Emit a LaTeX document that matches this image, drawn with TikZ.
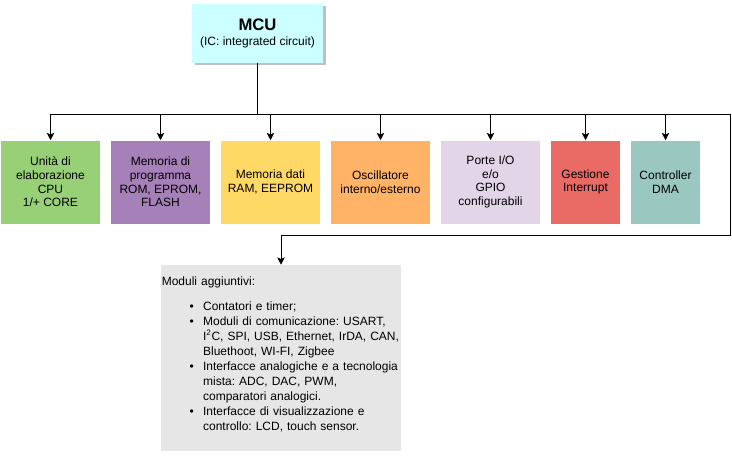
\documentclass[tikz,border=0pt]{standalone}
\usepackage{fontspec}
\setmainfont{Liberation Sans}
\usetikzlibrary{arrows.meta,shadows}
\definecolor{cmcu}{HTML}{CCFFFF}
\definecolor{ccpu}{HTML}{97D077}
\definecolor{cprog}{HTML}{A680B8}
\definecolor{cdati}{HTML}{FFD966}
\definecolor{cosc}{HTML}{FFB366}
\definecolor{cporte}{HTML}{E1D5E7}
\definecolor{cint}{HTML}{EA6B66}
\definecolor{cdma}{HTML}{9AC7BF}
\definecolor{cmod}{HTML}{E6E6E6}
\frenchspacing
\begin{document}
\frenchspacing
\begin{tikzpicture}[x=0.75pt,y=-0.75pt,
  font=\fontsize{9}{10.2}\selectfont,
  blk/.style={rectangle, draw=none, inner sep=0pt, minimum height=62.25pt, align=center},
  wide/.style={blk, minimum width=74.25pt},
  narrow/.style={blk, minimum width=51.75pt},
  conn/.style={line width=0.75pt, black},
  arr/.style={conn, -{Stealth[length=5.5pt,width=5.5pt,inset=1.2pt]}}]
\useasboundingbox (0,0) rectangle (732,455);

\node[rectangle, fill=cmcu, inner sep=0pt, minimum width=98.25pt, minimum height=44.25pt,
  drop shadow={shadow xshift=2pt, shadow yshift=-2pt, fill=black, opacity=0.25}, align=center]
  (mcu) at (257.5,33) {{\fontsize{12.5}{14}\selectfont\bfseries MCU}\\[1pt]{\fontsize{9}{10}\selectfont (IC: integrated circuit)}};

\node[wide, fill=ccpu] (cpu) at (50.5,182) {Unità di\\elaborazione\\CPU\\1/+ CORE};
\node[wide, fill=cprog] (prog) at (160.5,182) {Memoria di\\programma\\ROM, EPROM,\\FLASH};
\node[wide, fill=cdati] (dati) at (270.5,182) {Memoria dati\\RAM, EEPROM};
\node[wide, fill=cosc] (osc) at (380.5,182) {Oscillatore\\interno/esterno};
\node[wide, fill=cporte] (porte) at (490.5,182) {Porte I/O\\e/o\\GPIO\\configurabili};
\node[narrow, fill=cint] (int) at (585.5,182) {Gestione\\Interrupt};
\node[narrow, fill=cdma] (dma) at (665.5,182) {Controller\\DMA};

\node[rectangle, fill=cmod, inner sep=0pt, minimum width=180pt, minimum height=139.5pt] (mod) at (281,358) {};
\node[anchor=north west, inner sep=0pt, text width=235pt, align=left,
  font=\fontsize{9}{11.25}\selectfont] (modtxt) at (161.5,277) {%
Moduli aggiuntivi:%
\begin{list}{\textbullet}{\setlength\leftmargin{31pt}\setlength\labelwidth{4pt}\setlength\labelsep{7pt}%
\setlength\itemsep{0pt}\setlength\parsep{0pt}\setlength\topsep{7pt}\setlength\partopsep{0pt}}
\item Contatori e timer;
\item Moduli di comunicazione: USART,\newline I\textsuperscript{2}C, SPI, USB, Ethernet, IrDA, CAN,\newline Bluethoot, WI-FI, Zigbee
\item Interfacce analogiche e a tecnologia\newline mista: ADC, DAC, PWM,\newline comparatori analogici.
\item Interfacce di visualizzazione e\newline controllo: LCD, touch sensor.
\end{list}};

\coordinate (busJ) at (257.5,114);
\coordinate (busL) at (50.5,114);
\coordinate (busR) at (730,114);
\coordinate (busRB) at (730,235);
\coordinate (busMB) at (281,235);

\draw[conn] (mcu.south) -- (busJ);
\draw[arr] (busR) -- (busL) -- (cpu.north);
\foreach \b in {prog,dati,osc,porte,int,dma}
  \draw[arr] (\b.north |- busL) -- (\b.north);
\draw[arr] (busR) -- (busRB) -- (busMB) -- (mod.north);
\end{tikzpicture}
\end{document}
